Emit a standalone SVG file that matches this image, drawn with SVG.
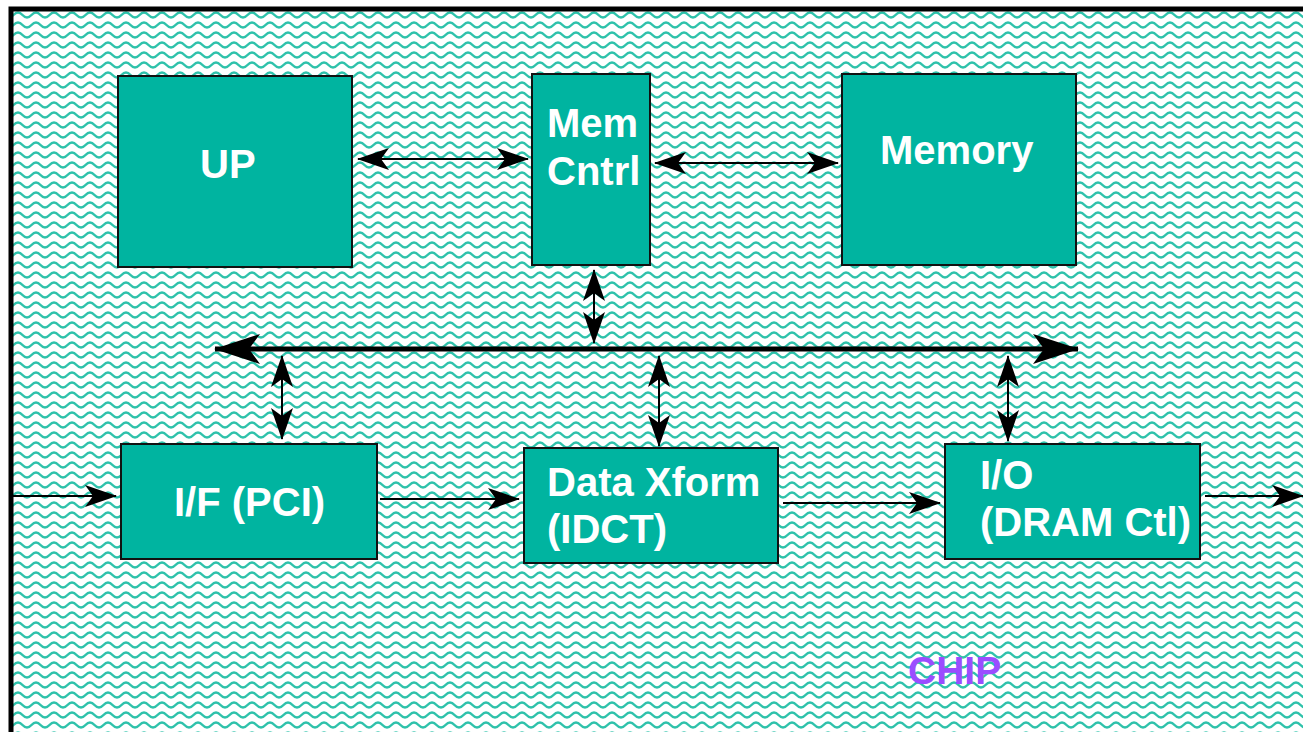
<svg xmlns="http://www.w3.org/2000/svg" width="1303" height="732" viewBox="0 0 1303 732">
  <defs>
    <pattern id="wave" width="18" height="10" patternUnits="userSpaceOnUse">
      <rect width="18" height="10" fill="#ffffff"/>
      <path d="M-4.5 5 Q0 0 4.5 5 T13.5 5 T22.5 5" fill="none" stroke="#2fc2ab" stroke-width="2.4"/>
    </pattern>
    <marker id="ah" viewBox="0 0 32 22" refX="31" refY="11" markerWidth="32" markerHeight="22" markerUnits="userSpaceOnUse" orient="auto-start-reverse">
      <path d="M0 0 L32 11 L0 22 L8 11 Z" fill="#000"/>
    </marker>
    <marker id="bh" viewBox="0 0 46 30" refX="45" refY="15" markerWidth="46" markerHeight="30" markerUnits="userSpaceOnUse" orient="auto-start-reverse">
      <path d="M0 0 L46 15 L0 30 L11 15 Z" fill="#000"/>
    </marker>
  </defs>
  <style>
    .blk { fill: #00b4a0; stroke: #111; stroke-width: 2; }
    .lbl { font-family: "Liberation Sans", Arial, sans-serif; font-weight: bold; font-size: 40px; fill: #ffffff; }
    .ln { stroke: #000; stroke-width: 2; fill: none; }
    .bus { stroke: #000; stroke-width: 5; fill: none; }
  </style>

  <!-- chip substrate -->
  <rect x="0" y="0" width="1303" height="732" fill="#ffffff"/>
  <rect x="11" y="9" width="1310" height="740" fill="url(#wave)" stroke="#000" stroke-width="5"/>

  <!-- connectors -->
  <g id="connectors">
    <line class="bus" x1="215" y1="349" x2="1078" y2="349" marker-start="url(#bh)" marker-end="url(#bh)"/>
    <line class="ln" x1="358" y1="159" x2="528" y2="159" marker-start="url(#ah)" marker-end="url(#ah)"/>
    <line class="ln" x1="655" y1="163" x2="838" y2="163" marker-start="url(#ah)" marker-end="url(#ah)"/>
    <line class="ln" x1="594" y1="270" x2="594" y2="343" marker-start="url(#ah)" marker-end="url(#ah)"/>
    <line class="ln" x1="282" y1="356" x2="282" y2="439" marker-start="url(#ah)" marker-end="url(#ah)"/>
    <line class="ln" x1="659" y1="356" x2="659" y2="446" marker-start="url(#ah)" marker-end="url(#ah)"/>
    <line class="ln" x1="1008" y1="356" x2="1008" y2="441" marker-start="url(#ah)" marker-end="url(#ah)"/>
    <line class="ln" x1="11" y1="496" x2="116" y2="496" marker-end="url(#ah)"/>
    <line class="ln" x1="380" y1="499" x2="519" y2="499" marker-end="url(#ah)"/>
    <line class="ln" x1="783" y1="503" x2="940" y2="503" marker-end="url(#ah)"/>
    <line class="ln" x1="1205" y1="496" x2="1303" y2="496" marker-end="url(#ah)"/>
  </g>

  <g id="up">
    <rect class="blk" x="118" y="76" width="234" height="191"/>
    <text class="lbl" x="200" y="178">UP</text>
  </g>
  <g id="mem-cntrl">
    <rect class="blk" x="532" y="74" width="118" height="191"/>
    <text class="lbl" x="547" y="137">Mem</text>
    <text class="lbl" x="547" y="185">Cntrl</text>
  </g>
  <g id="memory">
    <rect class="blk" x="842" y="74" width="234" height="191"/>
    <text class="lbl" x="880" y="164">Memory</text>
  </g>
  <g id="if-pci">
    <rect class="blk" x="121" y="444" width="256" height="115"/>
    <text class="lbl" x="174" y="516">I/F (PCI)</text>
  </g>
  <g id="data-xform">
    <rect class="blk" x="524" y="448" width="254" height="115"/>
    <text class="lbl" x="547" y="496">Data Xform</text>
    <text class="lbl" x="547" y="543">(IDCT)</text>
  </g>
  <g id="io">
    <rect class="blk" x="945" y="444" width="255" height="115"/>
    <text class="lbl" x="980" y="489">I/O</text>
    <text class="lbl" x="980" y="536">(DRAM Ctl)</text>
  </g>

  <text id="chip" x="908" y="684" font-family="Liberation Sans, Arial, sans-serif" font-weight="bold" font-size="39" fill="#9b4dff">CHIP</text>
</svg>
